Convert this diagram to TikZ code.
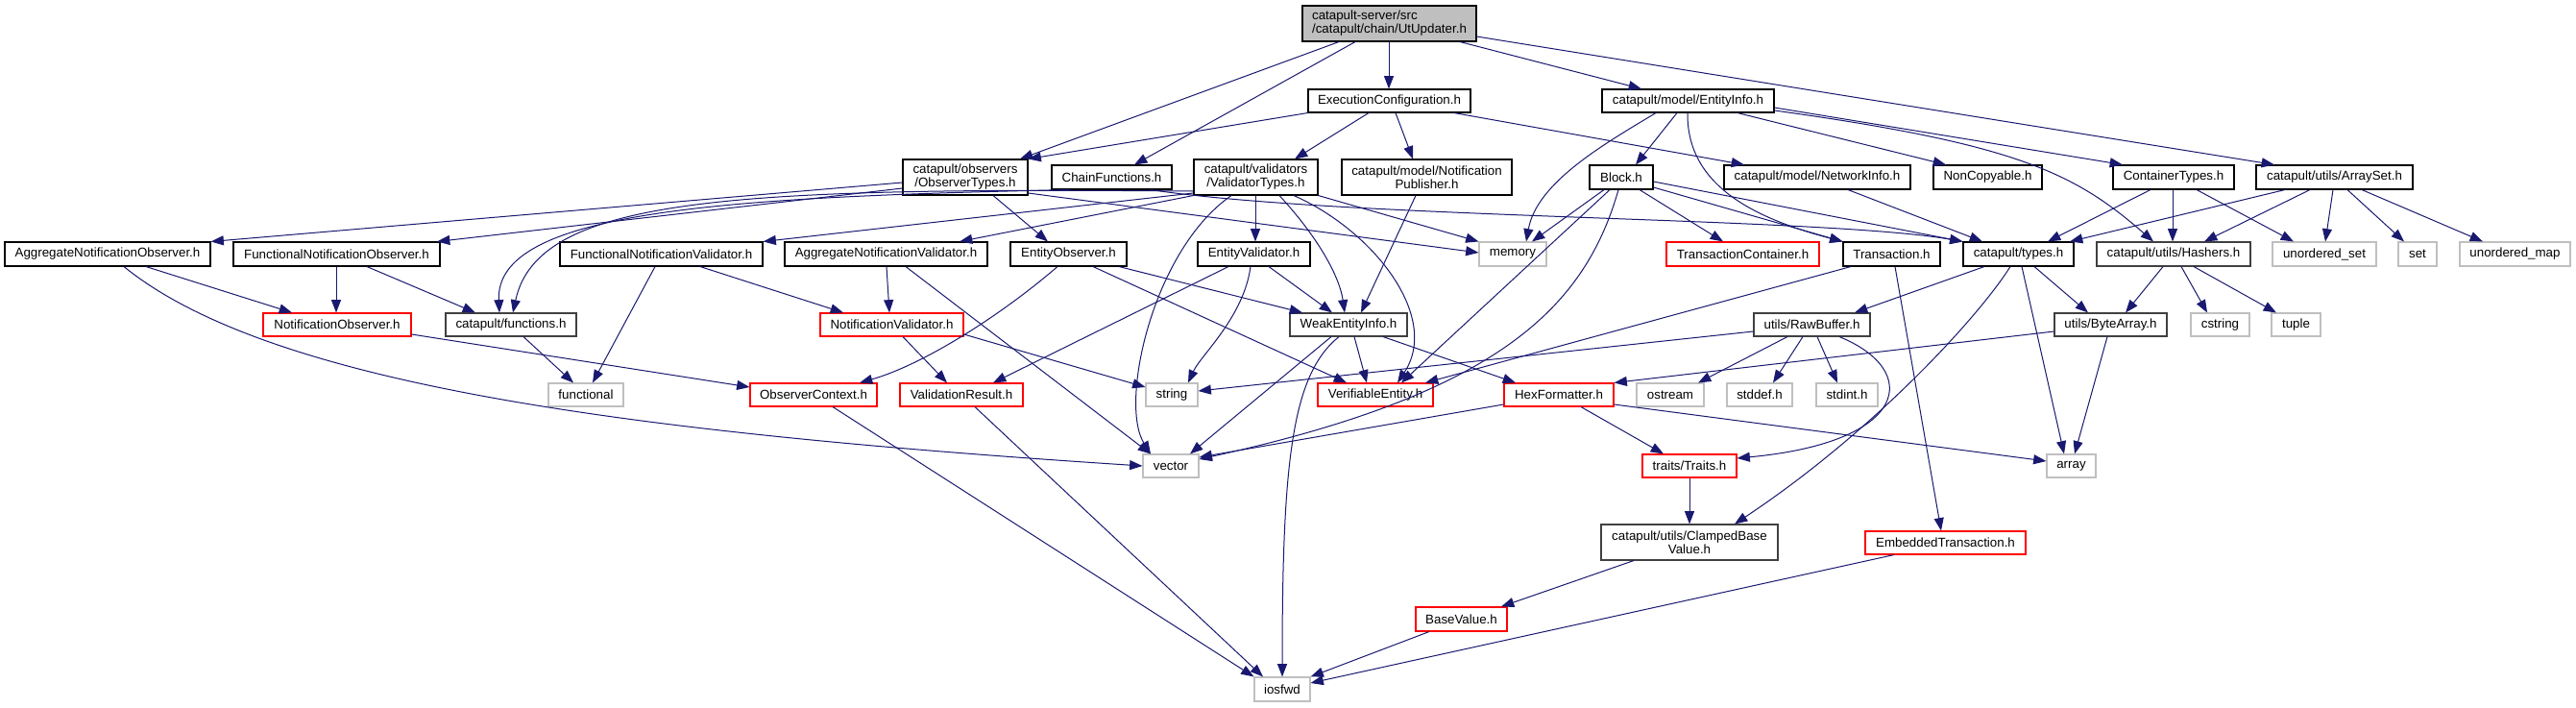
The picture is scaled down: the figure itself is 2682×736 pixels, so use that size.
\documentclass[tikz,border=0pt]{standalone}
\usepackage{fontspec}
\setmainfont{Liberation Sans}
\usetikzlibrary{arrows.meta}
\definecolor{mblue}{HTML}{191970}
\definecolor{gseven}{HTML}{BFBFBF}
\definecolor{gtwo}{HTML}{404040}
\definecolor{dred}{HTML}{FF0000}
\newcommand{\filebox}[7]{\node[#6, minimum width={(#4-#2)*0.75pt}, minimum height={(#5-#3)*0.75pt}] (#1) at ({(#2+#4)/2},{(#3+#5)/2}) {#7};}
\begin{document}
\begin{tikzpicture}[x=0.75pt,y=-0.75pt,
  fb/.style={draw=black, line width=0.8pt, fill=white, inner sep=0pt, font=\fontsize{10}{10.5}\selectfont, align=center, text=black},
  sysb/.style={fb, draw=gseven},
  redb/.style={fb, draw=dred},
  darkb/.style={fb, draw=gtwo},
  rootb/.style={fb, fill=gseven, align=left},
  e/.style={draw=mblue, line width=0.75pt, -{Triangle[length=10pt,width=7.5pt]}},
]
\fill[white] (0,0) rectangle (2682,736);
\useasboundingbox (0,0) rectangle (2682,736);

\filebox{ut}{1356}{6}{1537}{43}{rootb}{catapult-server/src\\/catapult/chain/UtUpdater.h}
\filebox{ec}{1362}{93}{1531}{117}{fb}{ExecutionConfiguration.h}
\filebox{ei}{1668}{93}{1847}{117}{fb}{catapult/model/EntityInfo.h}
\filebox{ot}{940}{166}{1070}{203}{fb}{catapult/observers\\/ObserverTypes.h}
\filebox{cf}{1095}{172}{1220}{197}{fb}{ChainFunctions.h}
\filebox{vt}{1243}{166}{1372}{203}{fb}{catapult/validators\\/ValidatorTypes.h}
\filebox{np}{1397}{166}{1574}{203}{fb}{catapult/model/Notification\\Publisher.h}
\filebox{blk}{1655}{172}{1721}{197}{fb}{Block.h}
\filebox{ni}{1795}{172}{1989}{197}{fb}{catapult/model/NetworkInfo.h}
\filebox{nc}{2013}{172}{2126}{197}{fb}{NonCopyable.h}
\filebox{ct}{2200}{172}{2326}{197}{fb}{ContainerTypes.h}
\filebox{as}{2349}{172}{2512}{197}{fb}{catapult/utils/ArraySet.h}
\filebox{ano}{5}{252}{219}{277}{fb}{AggregateNotificationObserver.h}
\filebox{fno}{243}{252}{458}{277}{fb}{FunctionalNotificationObserver.h}
\filebox{fnv}{583}{252}{794}{277}{fb}{FunctionalNotificationValidator.h}
\filebox{anv}{817}{252}{1028}{277}{fb}{AggregateNotificationValidator.h}
\filebox{eo}{1052}{252}{1173}{277}{fb}{EntityObserver.h}
\filebox{ev}{1247}{252}{1364}{277}{fb}{EntityValidator.h}
\filebox{mem}{1540}{252}{1610}{277}{sysb}{memory}
\filebox{tc}{1735}{252}{1894}{277}{redb}{TransactionContainer.h}
\filebox{tr}{1919}{252}{2020}{277}{fb}{Transaction.h}
\filebox{types}{2044}{252}{2159}{277}{fb}{catapult/types.h}
\filebox{hs}{2183}{252}{2343}{277}{darkb}{catapult/utils/Hashers.h}
\filebox{us}{2366}{252}{2474}{277}{sysb}{unordered\_set}
\filebox{set}{2497}{252}{2537}{277}{sysb}{set}
\filebox{um}{2561}{252}{2676}{277}{sysb}{unordered\_map}
\filebox{no}{274}{326}{428}{350}{redb}{NotificationObserver.h}
\filebox{fn}{464}{326}{600}{350}{darkb}{catapult/functions.h}
\filebox{nv}{854}{326}{1003}{350}{redb}{NotificationValidator.h}
\filebox{wei}{1343}{326}{1465}{350}{darkb}{WeakEntityInfo.h}
\filebox{rb}{1826}{326}{1947}{350}{darkb}{utils/RawBuffer.h}
\filebox{ba}{2139}{326}{2256}{350}{darkb}{utils/ByteArray.h}
\filebox{cs}{2281}{326}{2342}{350}{sysb}{cstring}
\filebox{tp}{2365}{326}{2416}{350}{sysb}{tuple}
\filebox{fnl}{571}{399}{649}{423}{sysb}{functional}
\filebox{oc}{781}{399}{913}{423}{redb}{ObserverContext.h}
\filebox{vr}{937}{399}{1065}{423}{redb}{ValidationResult.h}
\filebox{str}{1193}{399}{1247}{423}{sysb}{string}
\filebox{ve}{1372}{399}{1492}{423}{redb}{VerifiableEntity.h}
\filebox{hf}{1566}{399}{1680}{423}{redb}{HexFormatter.h}
\filebox{os}{1704}{399}{1774}{423}{sysb}{ostream}
\filebox{sd}{1798}{399}{1866}{423}{sysb}{stddef.h}
\filebox{si}{1891}{399}{1955}{423}{sysb}{stdint.h}
\filebox{vec}{1190}{473}{1248}{497}{sysb}{vector}
\filebox{trt}{1710}{473}{1808}{497}{redb}{traits/Traits.h}
\filebox{arr}{2131}{473}{2182}{497}{sysb}{array}
\filebox{cbv}{1667}{546}{1851}{583}{darkb}{catapult/utils/ClampedBase\\Value.h}
\filebox{et}{1942}{553}{2109}{577}{redb}{EmbeddedTransaction.h}
\filebox{bv}{1474}{632}{1569}{657}{redb}{BaseValue.h}
\filebox{ios}{1306}{705}{1364}{730}{sysb}{iosfwd}

% UtUpdater
\draw[e] (ut.south -| 1394,0) -- (ot.north -| 1062,0);
\draw[e] (ut.south -| 1411,0) -- (cf.north -| 1181,0);
\draw[e] (ut.south -| 1446,0) -- (ec.north -| 1446,0);
\draw[e] (ut.south -| 1520,0) -- (ei.north -| 1709,0);
\draw[e] (ut.east |- 0,38) -- (as.north -| 2368,0);
% ExecutionConfiguration
\draw[e] (ec.south west) -- (ot.north east);
\draw[e] (ec.south -| 1425,0) -- (vt.north -| 1348,0);
\draw[e] (ec.south -| 1453,0) -- (np.north -| 1471,0);
\draw[e] (ec.south -| 1514,0) -- (ni.north -| 1816,0);
% EntityInfo
\draw[e] (ei.south -| 1724,0) .. controls (1670,150) and (1600,190) .. (mem.north -| 1589,0);
\draw[e] (ei.south -| 1746,0) -- (blk.north -| 1703,0);
\draw[e] (ei.south -| 1757,0) .. controls (1756,195) and (1830,228) .. (tr.north west);
\draw[e] (ei.south -| 1809,0) -- (nc.north -| 2026,0);
\draw[e] (ei.east |- 0,112) -- (ct.north -| 2210,0);
\draw[e] (ei.east |- 0,115) .. controls (2100,150) and (2160,180) .. (hs.north -| 2242,0);
% ObserverTypes
\draw[e] (ot.west |- 0,190) -- (ano.north east);
\draw[e] (ot.west |- 0,196) -- (fno.north -| 455,0);
\draw[e] (ot.south -| 1034,0) -- (eo.north -| 1091,0);
\draw[e] (ot.east |- 0,201) -- (mem.west |- 0,263);
% ChainFunctions
\draw[e] (cf.south -| 1114,0) .. controls (750,205) and (515,220) .. (fn.north -| 520,0);
\draw[e] (cf.south -| 1198,0) .. controls (1400,228) and (1900,226) .. (types.north west);
% ValidatorTypes
\draw[e] (vt.west |- 0,201) -- (fnv.north east);
\draw[e] (vt.south west) -- (anv.north -| 999,0);
\draw[e] (vt.west |- 0,199) .. controls (760,195) and (560,205) .. (fn.north -| 534,0);
\draw[e] (vt.south -| 1282,0) .. controls (1200,260) and (1165,420) .. (vec.north -| 1198,0);
\draw[e] (vt.south -| 1307,0) -- (ev.north -| 1307,0);
\draw[e] (vt.south -| 1332,0) .. controls (1375,250) and (1395,290) .. (wei.north -| 1400,0);
\draw[e] (vt.south -| 1347,0) .. controls (1430,240) and (1500,330) .. (ve.north -| 1455,0);
\draw[e] (vt.south east) -- (mem.north west);
% NotificationPublisher
\draw[e] (np.south -| 1474,0) -- (wei.north -| 1417,0);
% Block
\draw[e] (blk.south -| 1670,0) -- (mem.north -| 1595,0);
\draw[e] (blk.south -| 1707,0) -- (tc.north -| 1794,0);
\draw[e] (blk.east |- 0,195) -- (tr.north west);
\draw[e] (blk.east |- 0,189) -- (types.north west);
\draw[e] (blk.south -| 1676,0) -- (ve.north -| 1459,0);
\draw[e] (blk.south -| 1685,0) .. controls (1650,320) and (1560,410) .. (vec.east |- 0,478);
% Transaction
\draw[e] (tr.south -| 1927,0) -- (ve.north -| 1484,0);
\draw[e] (tr.south -| 1973,0) -- (et.north -| 2021,0);
% types
\draw[e] (types.south -| 2066,0) -- (rb.north -| 1931,0);
\draw[e] (types.south -| 2118,0) -- (ba.north -| 2174,0);
\draw[e] (types.south -| 2093,0) .. controls (2060,330) and (1950,450) .. (cbv.north -| 1806,0);
\draw[e] (types.south -| 2105,0) -- (arr.north -| 2149,0);
% Hashers
\draw[e] (hs.south -| 2252,0) -- (ba.north -| 2213,0);
\draw[e] (hs.south -| 2271,0) -- (cs.north -| 2298,0);
\draw[e] (hs.south -| 2284,0) -- (tp.north -| 2370,0);
% ContainerTypes
\draw[e] (ct.south -| 2239,0) -- (types.north -| 2132,0);
\draw[e] (ct.south -| 2262,0) -- (hs.north -| 2262,0);
\draw[e] (ct.south -| 2287,0) -- (us.north -| 2388,0);
% ArraySet
\draw[e] (as.south -| 2379,0) -- (types.north -| 2155,0);
\draw[e] (as.south -| 2405,0) -- (hs.north -| 2295,0);
\draw[e] (as.south -| 2429,0) -- (us.north -| 2421,0);
\draw[e] (as.south -| 2444,0) -- (set.north -| 2503,0);
\draw[e] (as.south -| 2459,0) -- (um.north -| 2585,0);
% NetworkInfo
\draw[e] (ni.south -| 1924,0) -- (types.north -| 2064,0);
% RawBuffer
\draw[e] (rb.west |- 0,345) -- (str.east |- 0,407);
\draw[e] (rb.south -| 1861,0) -- (os.north -| 1768,0);
\draw[e] (rb.south -| 1877,0) -- (sd.north -| 1846,0);
\draw[e] (rb.south -| 1892,0) -- (si.north -| 1913,0);
\draw[e] (rb.south -| 1915,0) .. controls (2000,385) and (1990,460) .. (trt.east |- 0,477);
% ByteArray
\draw[e] (ba.west |- 0,345) -- (hf.north east);
\draw[e] (ba.south -| 2194,0) -- (arr.north -| 2160,0);
% HexFormatter
\draw[e] (hf.west |- 0,421) -- (vec.east |- 0,476);
\draw[e] (hf.south -| 1646,0) -- (trt.north -| 1732,0);
\draw[e] (hf.east |- 0,421) -- (arr.west |- 0,480);
% Traits, ClampedBaseValue, BaseValue, EmbeddedTransaction
\draw[e] (trt.south -| 1759,0) -- (cbv.north -| 1759,0);
\draw[e] (cbv.south -| 1701,0) -- (bv.north -| 1563,0);
\draw[e] (bv.south -| 1488,0) -- (ios.north east);
\draw[e] (et.south -| 1972,0) -- (ios.east |- 0,711);
% WeakEntityInfo
\draw[e] (wei.south -| 1386,0) -- (vec.north -| 1239,0);
\draw[e] (wei.south -| 1394,0) .. controls (1345,390) and (1335,480) .. (ios.north -| 1335,0);
\draw[e] (wei.south -| 1410,0) -- (ve.north -| 1423,0);
\draw[e] (wei.south -| 1440,0) -- (hf.north -| 1578,0);
% EntityObserver
\draw[e] (eo.south -| 1101,0) .. controls (1040,330) and (960,380) .. (oc.north -| 895,0);
\draw[e] (eo.south -| 1138,0) -- (ve.north -| 1402,0);
\draw[e] (eo.south -| 1165,0) -- (wei.north -| 1356,0);
% EntityValidator
\draw[e] (ev.south -| 1279,0) -- (vr.north -| 1034,0);
\draw[e] (ev.south -| 1302,0) .. controls (1295,330) and (1250,370) .. (str.north -| 1237,0);
\draw[e] (ev.south -| 1321,0) -- (wei.north -| 1387,0);
% AggregateNotificationValidator
\draw[e] (anv.south -| 923,0) -- (nv.north -| 926,0);
\draw[e] (anv.south -| 943,0) -- (vec.north -| 1198,0);
% FunctionalNotificationValidator
\draw[e] (fnv.south -| 729,0) -- (nv.north -| 878,0);
\draw[e] (fnv.south -| 682,0) -- (fnl.north -| 617,0);
% NotificationValidator
\draw[e] (nv.south -| 940,0) -- (vr.north -| 986,0);
\draw[e] (nv.east |- 0,348) -- (str.west |- 0,403);
% AggregateNotificationObserver
\draw[e] (ano.south -| 152,0) -- (no.north -| 304,0);
\draw[e] (ano.south -| 129,0) .. controls (280,400) and (650,450) .. (vec.west |- 0,485);
% FunctionalNotificationObserver
\draw[e] (fno.south -| 350,0) -- (no.north -| 350,0);
\draw[e] (fno.south -| 382,0) -- (fn.north -| 495,0);
% NotificationObserver, functions, ObserverContext, ValidationResult
\draw[e] (no.east |- 0,348) -- (oc.west |- 0,403);
\draw[e] (fn.south -| 545,0) -- (fnl.north -| 597,0);
\draw[e] (oc.south -| 867,0) -- (ios.north west);
\draw[e] (vr.south -| 1015,0) -- (ios.north -| 1315,0);
\end{tikzpicture}
\end{document}
